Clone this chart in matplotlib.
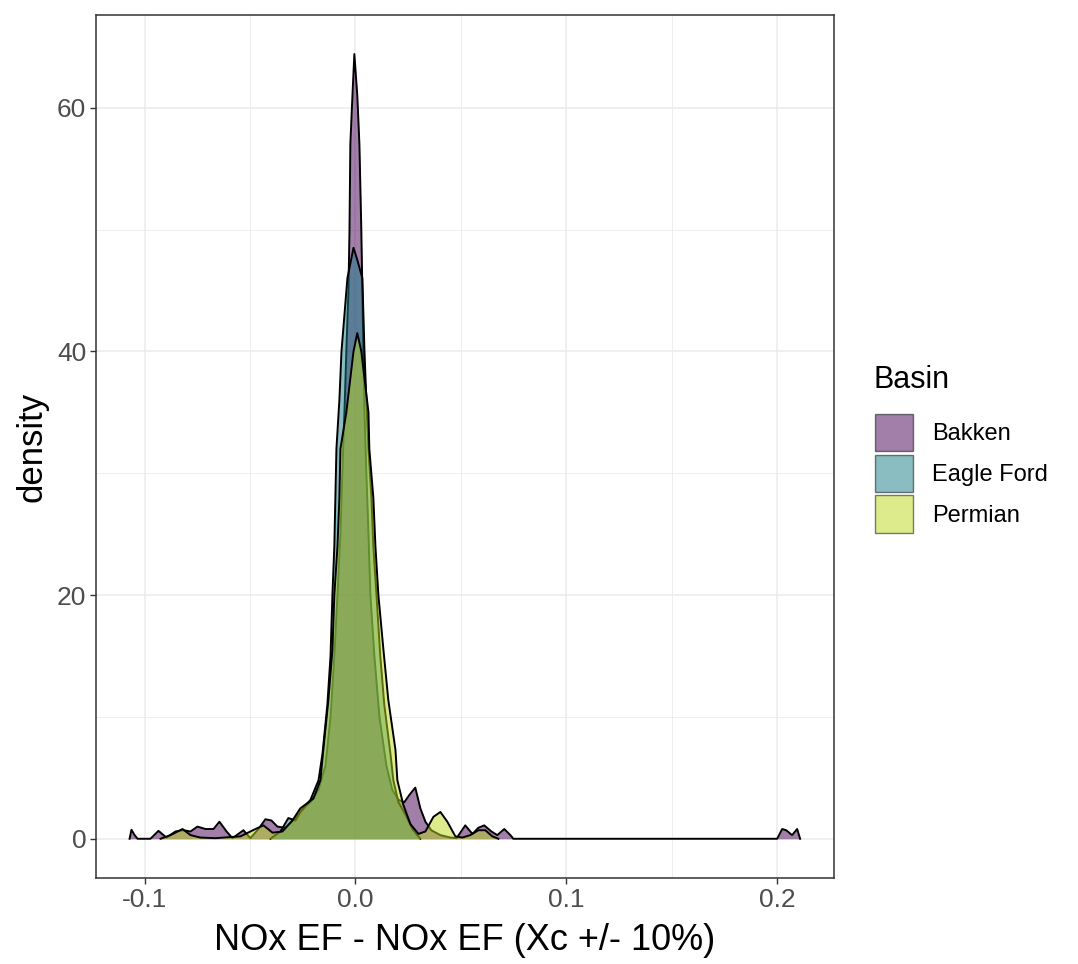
import matplotlib.pyplot as plt
import numpy as np
from matplotlib.patches import Patch

plt.rcParams['font.family'] = ['Liberation Sans', 'DejaVu Sans']

basins = ["Bakken", "Eagle Ford", "Permian"]
fill_colors = ["#440154", "#167C86", "#BCD81C"]

# density curves (x, density)
bakken_x = [-0.1071, -0.1062, -0.1047, -0.1033, -0.0972, -0.0934, -0.0896, -0.0853,
            -0.0815, -0.0782, -0.0749, -0.0711, -0.0673, -0.0645, -0.0611, -0.0583,
            -0.0531, -0.0498, -0.0460, -0.0427, -0.0398, -0.0370, -0.0332, -0.0294,
            -0.0261, -0.0213, -0.0175, -0.0142, -0.0118, -0.0100, -0.0085, -0.0071,
            -0.0062, -0.0052, -0.0043, -0.0033, -0.0028, -0.0024, -0.0014, -0.0005,
            0.0009, 0.0019, 0.0028, 0.0033, 0.0038, 0.0043, 0.0052, 0.0062,
            0.0071, 0.0090, 0.0114, 0.0147, 0.0175, 0.0204, 0.0232, 0.0256,
            0.0284, 0.0308, 0.0332, 0.0360, 0.0403, 0.0450, 0.0480, 0.0521,
            0.0555, 0.0583, 0.0611, 0.0645, 0.0673, 0.0706, 0.0735, 0.0749,
            0.2000, 0.2024, 0.2043, 0.2071, 0.2095, 0.2109]
bakken_y = [0.0, 0.74, 0.3, 0.0, 0.0, 0.65, 0.1, 0.6,
            0.7, 0.6, 1.0, 0.8, 0.8, 1.4, 0.6, 0.05,
            0.7, 0.05, 0.8, 1.6, 1.5, 1.0, 0.9, 1.5,
            2.2, 3.0, 4.0, 6.0, 10.0, 15.0, 20.0, 25.0,
            30.0, 35.0, 40.0, 45.0, 50.0, 57.0, 61.0, 64.4,
            61.0, 57.0, 50.0, 45.0, 40.0, 35.0, 30.0, 25.0,
            20.0, 15.0, 10.0, 6.0, 4.0, 3.2, 3.0, 3.6,
            4.2, 2.5, 1.4, 0.7, 0.3, 0.1, 0.05, 1.1,
            0.4, 0.9, 1.1, 0.6, 0.3, 0.8, 0.3, 0.0,
            0.0, 0.8, 0.7, 0.3, 0.8, 0.0]

eagle_x = [-0.0403, -0.0355, -0.0318, -0.0284, -0.0261, -0.0213, -0.0175, -0.0156,
           -0.0133, -0.0118, -0.0109, -0.0100, -0.0095, -0.0090, -0.0076, -0.0066,
           -0.0038, -0.0009, 0.0009, 0.0033, 0.0043, 0.0052, 0.0062, 0.0076,
           0.0085, 0.0100, 0.0118, 0.0137, 0.0166, 0.0180, 0.0204, 0.0237,
           0.0270, 0.0308]
eagle_y = [0.0, 0.6, 1.7, 1.5, 2.2, 3.2, 4.8, 7.0,
           11.0, 15.0, 20.0, 24.0, 28.0, 32.0, 36.0, 40.0,
           46.0, 48.5, 47.5, 46.0, 40.0, 36.0, 32.0, 28.0,
           24.0, 20.0, 15.0, 11.0, 7.0, 4.8, 3.0, 2.0,
           0.8, 0.0]

permian_x = [-0.0924, -0.0877, -0.0820, -0.0782, -0.0735, -0.0664, -0.0545, -0.0474,
             -0.0436, -0.0393, -0.0346, -0.0299, -0.0261, -0.0199, -0.0166, -0.0152,
             -0.0128, -0.0109, -0.0100, -0.0085, -0.0076, -0.0071, -0.0043, -0.0009,
             0.0009, 0.0028, 0.0062, 0.0066, 0.0085, 0.0095, 0.0109, 0.0133,
             0.0156, 0.0190, 0.0199, 0.0227, 0.0261, 0.0299, 0.0332, 0.0370,
             0.0403, 0.0436, 0.0474, 0.0507, 0.0545, 0.0583, 0.0616, 0.0649,
             0.0678]
permian_y = [0.0, 0.3, 0.8, 0.3, 0.1, 0.05, 0.2, 0.8,
             1.1, 0.5, 0.6, 1.5, 2.5, 3.3, 4.8, 7.3,
             11.4, 15.5, 20.0, 24.0, 28.0, 32.0, 35.0, 40.0,
             41.5, 40.0, 35.0, 32.0, 28.0, 24.0, 20.0, 15.5,
             11.4, 7.3, 4.8, 2.8, 1.2, 0.4, 0.6, 1.8,
             2.2, 1.4, 0.2, 0.1, 0.3, 0.7, 0.7, 0.2,
             0.0]

curves = [(bakken_x, bakken_y), (eagle_x, eagle_y), (permian_x, permian_y)]

fig = plt.figure(figsize=(10.78, 9.64), dpi=100)
ax = fig.add_axes([0.0891, 0.0892, 0.6846, 0.8952])

for i, (cx, cy) in enumerate(curves):
    ax.fill_between(cx, 0, cy, color=fill_colors[i], alpha=0.5, lw=0, zorder=2 + 2 * i)
    ax.plot(cx, cy, color="black", lw=1.4, zorder=3 + 2 * i)

ax.set_xlim(-0.1230, 0.2270)
ax.set_ylim(-3.22, 67.6)
ax.set_xticks([-0.1, 0.0, 0.1, 0.2])
ax.set_xticklabels(["-0.1", "0.0", "0.1", "0.2"])
ax.set_yticks([0, 20, 40, 60])
ax.set_xticks([-0.05, 0.05, 0.15], minor=True)
ax.set_yticks([10, 30, 50], minor=True)
ax.grid(which="major", color="#EBEBEB", lw=1.1, zorder=0)
ax.grid(which="minor", color="#EBEBEB", lw=0.6, zorder=0)
ax.set_axisbelow(True)
ax.tick_params(which="major", length=4, width=1, color="#333333",
               labelsize=19, labelcolor="#4D4D4D", pad=3)
ax.tick_params(which="minor", length=0)
for s in ax.spines.values():
    s.set_color("#333333")
    s.set_linewidth(1.1)

ax.set_xlabel("NOx EF - NOx EF (Xc +/- 10%)", fontsize=26, labelpad=8)
ax.set_ylabel("density", fontsize=25, labelpad=6)

# legend title placed on its own, keys below it
fig.text(0.81, 1 - 380 / 964, "Basin", fontsize=22, va="center", ha="left")
handles = [Patch(facecolor=c, alpha=0.5, edgecolor="black", lw=1.0) for c in fill_colors]
leg = fig.legend(handles, basins, loc="center left", bbox_to_anchor=(0.792, 0.509),
                 frameon=False, fontsize=17,
                 handlelength=1.6, handleheight=2.05, labelspacing=0.15,
                 handletextpad=0.8)

fig.savefig("out.png", dpi=100)
